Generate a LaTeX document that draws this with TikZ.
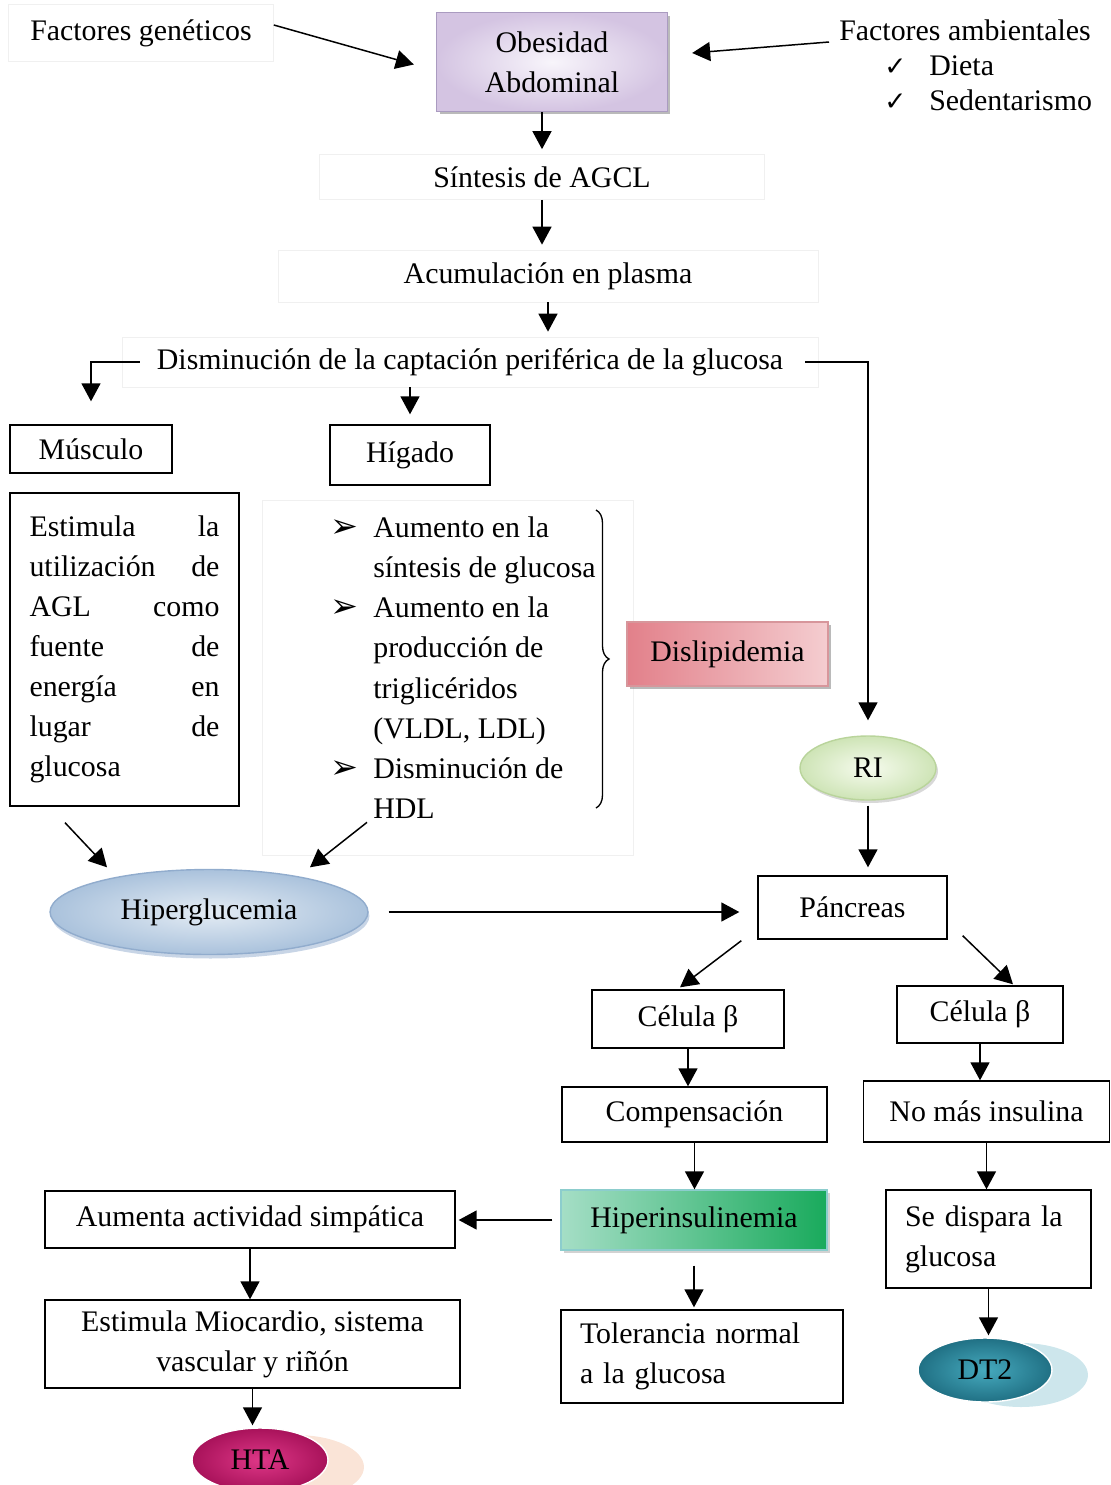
\documentclass[tikz,border=0pt]{standalone}
\usepackage{fontspec}
\setmainfont{Liberation Serif}
\newfontfamily\symf{DejaVu Sans}
\usetikzlibrary{shapes.geometric, arrows.meta, positioning, shadows, decorations.pathreplacing}
\definecolor{LilaClaro}{RGB}{248,245,251}
\definecolor{Lila}{RGB}{212,196,226}
\definecolor{LilaBorde}{RGB}{170,155,192}
\definecolor{RosaFuerte}{RGB}{226,128,138}
\definecolor{RosaClaro}{RGB}{244,205,208}
\definecolor{RosaBorde}{RGB}{215,150,155}
\definecolor{VerdeClaro}{RGB}{246,251,238}
\definecolor{Verde}{RGB}{206,228,182}
\definecolor{VerdeBorde}{RGB}{185,212,155}
\definecolor{AzulClaro}{RGB}{228,236,244}
\definecolor{Azul}{RGB}{170,194,220}
\definecolor{AzulBorde}{RGB}{145,172,205}
\definecolor{MentaIzq}{RGB}{165,222,198}
\definecolor{MentaClaro}{RGB}{212,242,228}
\definecolor{Menta}{RGB}{25,170,92}
\definecolor{MentaBorde}{RGB}{140,205,205}
\definecolor{Magenta}{RGB}{222,55,135}
\definecolor{MagentaOscuro}{RGB}{168,18,90}
\definecolor{Durazno}{RGB}{250,228,215}
\definecolor{Turquesa}{RGB}{70,170,190}
\definecolor{TurquesaOscuro}{RGB}{32,112,132}
\definecolor{Celeste}{RGB}{205,230,236}

\begin{document}
\begin{tikzpicture}[
          x=0.02cm, y=-0.02cm,
          every node/.style={font=\fontsize{17pt}{22.8pt}\selectfont},
          plain/.style={inner sep=0pt},
          ghost/.style={rectangle, draw=black!6, inner sep=0pt},
          box/.style={rectangle, draw=black, line width=0.8pt, inner sep=0pt, align=center},
          blob/.style={ellipse, draw=white, line width=0.8pt, inner sep=0pt},
          arrow/.style={-{Triangle[length=0.36cm, width=0.38cm]}, line width=0.85pt}
        ]
          \useasboundingbox (0,0) rectangle (1111,1485);

          \node (genet) [ghost, minimum width=5.3cm, minimum height=1.14cm] at (141,33) {Factores genéticos};
          \node (obes) [box, draw=LilaBorde, inner color=LilaClaro, outer color=Lila, drop shadow={shadow xshift=0.06cm, shadow yshift=-0.06cm, fill=black!45, opacity=0.6}, minimum width=4.62cm, minimum height=1.98cm] at (552,62) {Obesidad\\Abdominal};
          \node (amb) [plain] at (965,30) {Factores ambientales};
          \node (ambl) [plain, anchor=west, align=left, font=\fontsize{17pt}{19.9pt}\selectfont] at (884,83) {\makebox[0.9cm][l]{\symf\fontsize{15pt}{15pt}\selectfont ✓}Dieta\\\makebox[0.9cm][l]{\symf\fontsize{15pt}{15pt}\selectfont ✓}Sedentarismo};

          \node (sint) [ghost, minimum width=8.9cm, minimum height=0.9cm] at (542,177) {Síntesis de AGCL};
          \node (acum) [ghost, minimum width=10.8cm, minimum height=1.04cm] at (548,276) {Acumulación en plasma};
          \node (dism) [ghost, minimum width=13.92cm, minimum height=1.0cm] at (470,362) {Disminución de la captación periférica de la glucosa};

          \node (musc) [box, minimum width=3.24cm, minimum height=0.96cm] at (91,449) {Músculo};
          \node (hig) [box, minimum width=3.2cm, minimum height=1.2cm] at (410,455) {Hígado};
          \node (estim) [box, minimum width=4.58cm, minimum height=6.26cm, text width=3.8cm, align=left] at (124.5,649.5) {Estimula\hfill la\\utilización\hfill de\\AGL\hfill como\\fuente\hfill de\\energía\hfill en\\lugar\hfill de\\glucosa};
          \node (higlist) [ghost, minimum width=7.42cm, minimum height=7.1cm] at (447.5,677.5) {};
          \node (higtxt) [plain, anchor=west] at (330,670) {\begin{tabular}{@{}l@{\hspace{0.3cm}}l@{}}
            {\symf\fontsize{19pt}{19pt}\selectfont ➢} & Aumento en la\\
            & síntesis de glucosa\\
            {\symf\fontsize{19pt}{19pt}\selectfont ➢} & Aumento en la\\
            & producción de\\
            & triglicéridos\\
            & (VLDL, LDL)\\
            {\symf\fontsize{19pt}{19pt}\selectfont ➢} & Disminución de\\
            & HDL
          \end{tabular}};
          \draw [decorate, decoration={brace, amplitude=0.26cm}, line width=0.75pt] (596,510) -- (596,808);
          \node (disl) [box, draw=RosaBorde, left color=RosaFuerte, right color=RosaClaro, drop shadow={shadow xshift=0.06cm, shadow yshift=-0.06cm, fill=black!45, opacity=0.6}, minimum width=4.02cm, minimum height=1.28cm] at (727.5,654) {Dislipidemia};
          \node (ri) [blob, draw=VerdeBorde, inner color=VerdeClaro, outer color=Verde, drop shadow={shadow xshift=0.04cm, shadow yshift=-0.06cm, fill=black!30, opacity=0.5}, minimum width=2.72cm, minimum height=1.28cm] at (868,768) {RI};

          \node (hglu) [blob, draw=AzulBorde, inner color=AzulClaro, outer color=Azul, drop shadow={shadow xshift=0.03cm, shadow yshift=-0.08cm, fill=AzulBorde, opacity=0.5}, minimum width=6.36cm, minimum height=1.7cm] at (209,912) {Hiperglucemia};
          \node (panc) [box, minimum width=3.78cm, minimum height=1.26cm] at (852.5,907.5) {Páncreas};
          \node (cel1) [box, minimum width=3.84cm, minimum height=1.16cm] at (688,1019) {Célula β};
          \node (cel2) [box, minimum width=3.32cm, minimum height=1.14cm] at (980,1014.5) {Célula β};
          \node (comp) [box, minimum width=5.3cm, minimum height=1.1cm] at (694.5,1114.5) {Compensación};
          \node (nomas) [box, minimum width=4.92cm, minimum height=1.22cm] at (986.5,1111.5) {No más insulina};
          \node (hins) [box, draw=MentaBorde, left color=MentaIzq, middle color=MentaClaro, right color=Menta, drop shadow={shadow xshift=0.06cm, shadow yshift=-0.06cm, fill=black!35, opacity=0.5}, minimum width=5.32cm, minimum height=1.2cm] at (694,1220) {Hiperinsulinemia};
          \node (aum) [box, minimum width=8.2cm, minimum height=1.14cm] at (250,1219.5) {Aumenta actividad simpática};
          \node (estm) [box, minimum width=8.3cm, minimum height=1.76cm] at (252.5,1344) {Estimula Miocardio, sistema\\vascular y riñón};
          \node (hta) [blob, inner color=Magenta, outer color=MagentaOscuro, drop shadow={shadow xshift=0.72cm, shadow yshift=-0.14cm, fill=Durazno, opacity=1}, minimum width=2.72cm, minimum height=1.28cm] at (260,1460) {HTA};
          \node (tol) [box, minimum width=5.64cm, minimum height=1.86cm, text width=4.88cm, align=left] at (702,1356.5) {Tolerancia normal\\a la glucosa};
          \node (sedisp) [box, minimum width=4.1cm, minimum height=1.96cm, text width=3.34cm, align=left] at (988.5,1239) {Se dispara la\\glucosa};
          \node (dt2) [blob, inner color=Turquesa, outer color=TurquesaOscuro, drop shadow={shadow xshift=0.72cm, shadow yshift=-0.1cm, fill=Celeste, opacity=1}, minimum width=2.68cm, minimum height=1.28cm] at (985,1370) {DT2};

          \draw [arrow] ([xshift=0cm, yshift=0.16cm]genet.east) -- ([xshift=-0.44cm, yshift=-0.05cm]obes.west);
          \draw [arrow] ([xshift=-0.2cm, yshift=-0.24cm]amb.west) -- ([xshift=0.48cm, yshift=0.18cm]obes.east);
          \draw [arrow, shorten >=0.1cm] (sint.north |- obes.south) -- (sint.north);
          \draw [arrow, shorten >=0.1cm] (sint.south) -- (sint.south |- acum.north);
          \draw [arrow, shorten >=0.1cm] (acum.south) -- (acum.south |- dism.north);
          \draw [arrow, shorten >=0.46cm] ([xshift=0.36cm]dism.west) -| (musc.north);
          \draw [arrow, shorten >=0.2cm] (hig.north |- dism.south) -- (hig.north);
          \draw [arrow, shorten >=0.3cm] ([xshift=-0.26cm]dism.east) -| (ri.north);
          \draw [arrow] ([xshift=-1.19cm, yshift=-0.32cm]estim.south) -- ([xshift=-2.04cm, yshift=0.03cm]hglu.north);
          \draw [arrow] ([xshift=-1.61cm, yshift=0.66cm]higlist.south) -- ([xshift=2.02cm, yshift=0.03cm]hglu.north);
          \draw [arrow, shorten <=0.4cm, shorten >=0.36cm] (hglu.east) -- (hglu.east -| panc.west);
          \draw [arrow, shorten <=0.1cm, shorten >=0.16cm] (ri.south) -- (ri.south |- panc.north);
          \draw [arrow] ([xshift=-0.32cm, yshift=-0.02cm]panc.south west) -- ([xshift=-0.16cm, yshift=0.04cm]cel1.north);
          \draw [arrow] ([xshift=0.3cm, yshift=0.08cm]panc.south east) -- ([xshift=0.66cm, yshift=0.02cm]cel2.north);
          \draw [arrow] (cel1.south) -- (cel1.south |- comp.north);
          \draw [arrow] (cel2.south) -- (cel2.south |- nomas.north);
          \draw [arrow] (comp.south) -- (comp.south |- hins.north);
          \draw [arrow, shorten <=0.16cm, shorten >=0.06cm] (hins.west) -- (hins.west -| aum.east);
          \draw [arrow] (aum.south) -- (aum.south |- estm.north);
          \draw [arrow, shorten >=0.04cm] (estm.south) -- (estm.south |- hta.north);
          \draw [arrow, shorten <=0.3cm, shorten >=0.04cm] (hins.south) -- (hins.south |- tol.north);
          \draw [arrow] (nomas.south) -- (nomas.south |- sedisp.north);
          \draw [arrow, shorten >=0.04cm] (sedisp.south) -- (sedisp.south |- dt2.north);
        \end{tikzpicture}
\end{document}
